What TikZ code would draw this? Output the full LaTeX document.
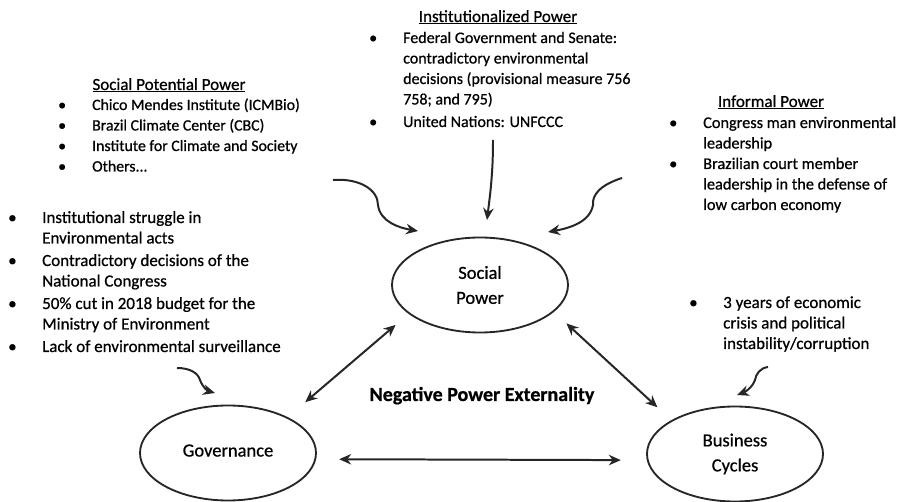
\documentclass[tikz,border=0pt]{standalone}
\usepackage{fontspec}
\setmainfont{Carlito}[FakeBold=0.7]
\usetikzlibrary{arrows.meta,shapes.geometric}
\tikzset{>={Stealth[length=12pt,width=10.5pt]}}
\tikzset{power/.style={ellipse,draw=black!85,line width=0.65mm,minimum width=176pt,minimum height=95pt,inner sep=0pt,align=center,font=\fontsize{18.5}{25}\selectfont}}
\tikzset{influence/.style={->,line width=0.7mm,black!85}}
\tikzset{linked/.style={<->,line width=0.7mm,black!85}}
\tikzset{bullets/.style={anchor=base west,inner sep=0pt,font=\fontsize{#1}{20.5}\selectfont},bullets/.default=16}
\tikzset{heading/.style={anchor=base,inner sep=0pt,font=\fontsize{17}{20}\selectfont}}
\newenvironment{bulletlist}{\begin{tabular}[t]{@{}p{34pt}@{}l@{}}}{\end{tabular}}

\begin{document}
\begin{tikzpicture}[x=1pt,y=-1pt]
\useasboundingbox (0,0) rectangle (908,502);
%
{
\node (inst) [heading] at (498,22) {\underline{Institutionalized Power}};
\node (instl) [bullets=16] at (369,43) {\begin{bulletlist}
\textbullet & Federal Government and Senate:\\
 & contradictory environmental\\
 & decisions (provisional measure 756\\
 & 758; and 795)\\[2pt]
\textbullet & United Nations: UNFCCC
\end{bulletlist}};
}
%
{
\node (spp) [heading] at (169,90) {\underline{Social Potential Power}};
\node (sppl) [bullets=15.8] at (58,110) {\begin{bulletlist}
\textbullet & Chico Mendes Institute (ICMBio)\\
\textbullet & Brazil Climate Center (CBC)\\
\textbullet & Institute for Climate and Society\\
\textbullet & Others...
\end{bulletlist}};
}
%
{
\node (inf) [heading] at (771,107) {\underline{Informal Power}};
\node (infl) [bullets=16.3] at (669,128) {\begin{bulletlist}
\textbullet & Congress man environmental\\
 & leadership\\
\textbullet & Brazilian court member\\
 & leadership in the defense of\\
 & low carbon economy
\end{bulletlist}};
}
%
{
\node (govl) [bullets=17] at (8,223) {\begin{bulletlist}
\textbullet & Institutional struggle in\\
 & Environmental acts\\[2pt]
\textbullet & Contradictory decisions of the\\
 & National Congress\\[2pt]
\textbullet & 50\% cut in 2018 budget for the\\
 & Ministry of Environment\\[2pt]
\textbullet & Lack of environmental surveillance
\end{bulletlist}};
\node (bcl) [bullets=17] at (689,308) {\begin{bulletlist}
\textbullet & 3 years of economic\\
 & crisis and political\\
 & instability/corruption
\end{bulletlist}};
}
%
{
\node (sp) [power] at (480,285) {Social\\Power};
\node (gov) [power] at (228,453) {\raisebox{5pt}{Governance}};
\node (bc) [power] at (735,454) {Business\\Cycles};
\node (npe) [anchor=base,font=\fontsize{20}{22}\selectfont\bfseries] at (482,401) {Negative Power Externality};
}
%
{
\path[linked,shorten <=23pt,shorten >=17pt] (gov.31) edge (sp.202);
\path[linked,shorten <=17pt,shorten >=19pt] (sp.340) edge (bc.152);
\path[linked,shorten <=23pt,shorten >=26pt] (gov.-4) edge (bc.184);
}
%
{
\coordinate (spp-s) at (333,180);
\coordinate (spp-e) at (418,231);
\coordinate (inst-s) at (493,140);
\coordinate (inst-e) at (487,220);
\coordinate (inf-s) at (622,178);
\coordinate (inf-e) at (548,232);
\coordinate (govl-s) at (177,368);
\coordinate (govl-e) at (215,393);
\coordinate (bcl-s) at (768,367);
\coordinate (bcl-e) at (737,395);
\draw[influence] (spp-s) .. controls (360,178) and (378,190) .. (378,205) .. controls (380,222) and (400,228) .. (spp-e);
\draw[influence] (inst-s) .. controls (493,175) and (490,195) .. (inst-e);
\draw[influence] (inf-s) .. controls (600,185) and (592,195) .. (593,205) .. controls (590,222) and (570,228) .. (inf-e);
\draw[influence] (govl-s) .. controls (190,368) and (198,373) .. (200,380) .. controls (203,388) and (208,391) .. (govl-e);
\draw[influence] (bcl-s) .. controls (760,368) and (756,374) .. (755,380) .. controls (752,388) and (745,392) .. (bcl-e);
}
\end{tikzpicture}
\end{document}
